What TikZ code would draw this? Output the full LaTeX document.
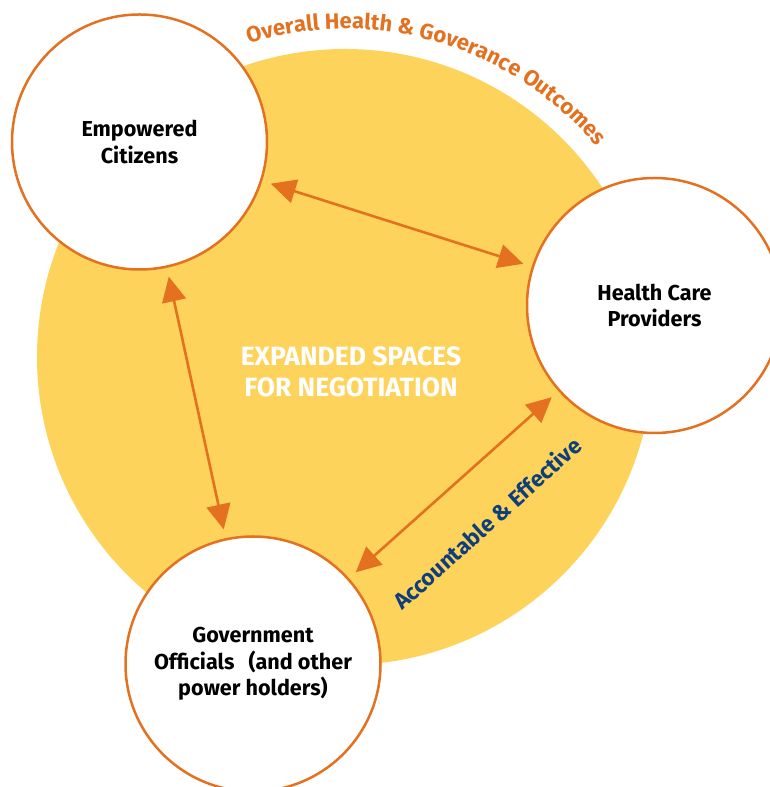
\documentclass[tikz,border=0pt]{standalone}
\usepackage{fontspec}
\setmainfont{Fira Sans}
\usetikzlibrary{arrows.meta,decorations.text}
\definecolor{ylw}{HTML}{FDD35C}
\definecolor{org}{HTML}{E3711F}
\definecolor{blu}{HTML}{0E3F7B}
\begin{document}
\begin{tikzpicture}[x=1pt,y=1pt,
  actor/.style={circle, draw=org, line width=2.5pt, fill=white, minimum size=255pt, inner sep=0pt, align=center, font=\fontsize{21.6}{26.5}\selectfont\bfseries},
  link/.style={draw=org, line width=2.6pt, {Triangle[length=25pt,width=24pt]}-{Triangle[length=25pt,width=24pt]}, shorten >=9pt, shorten <=9pt}]
\useasboundingbox (0,0) rectangle (770,787);
\fill[ylw] (345,430) circle (308);
\path[decorate, decoration={text along path, text align=center, text={|\fontsize{22}{22}\selectfont\bfseries\color{org}|Overall Health {\&} Goverance Outcomes}}] (345,430) ++(112:328) arc[start angle=112, end angle=35, radius=328];
\node[text=white, font=\fontsize{26.5}{31}\selectfont\bfseries, align=center] (exp) at (351,415) {EXPANDED SPACES\\FOR NEGOTIATION};
\node[rotate=42, text=blu, font=\fontsize{22.5}{22.5}\selectfont\bfseries] (acc) at (487,264) {Accountable \& Effective};
\node[actor] (cit) at (139.5,645) {Empowered\\Citizens};
\node[actor] (hcp) at (654.5,481.5) {Health Care\\Providers};
\node[actor] (gov) at (253,123) {Government\\Officials\hspace{14pt}(and other\\power holders)};
\draw[link] (cit) -- (hcp);
\draw[link] (cit) -- (gov);
\draw[link] (hcp) -- (gov);
\end{tikzpicture}
\end{document}
